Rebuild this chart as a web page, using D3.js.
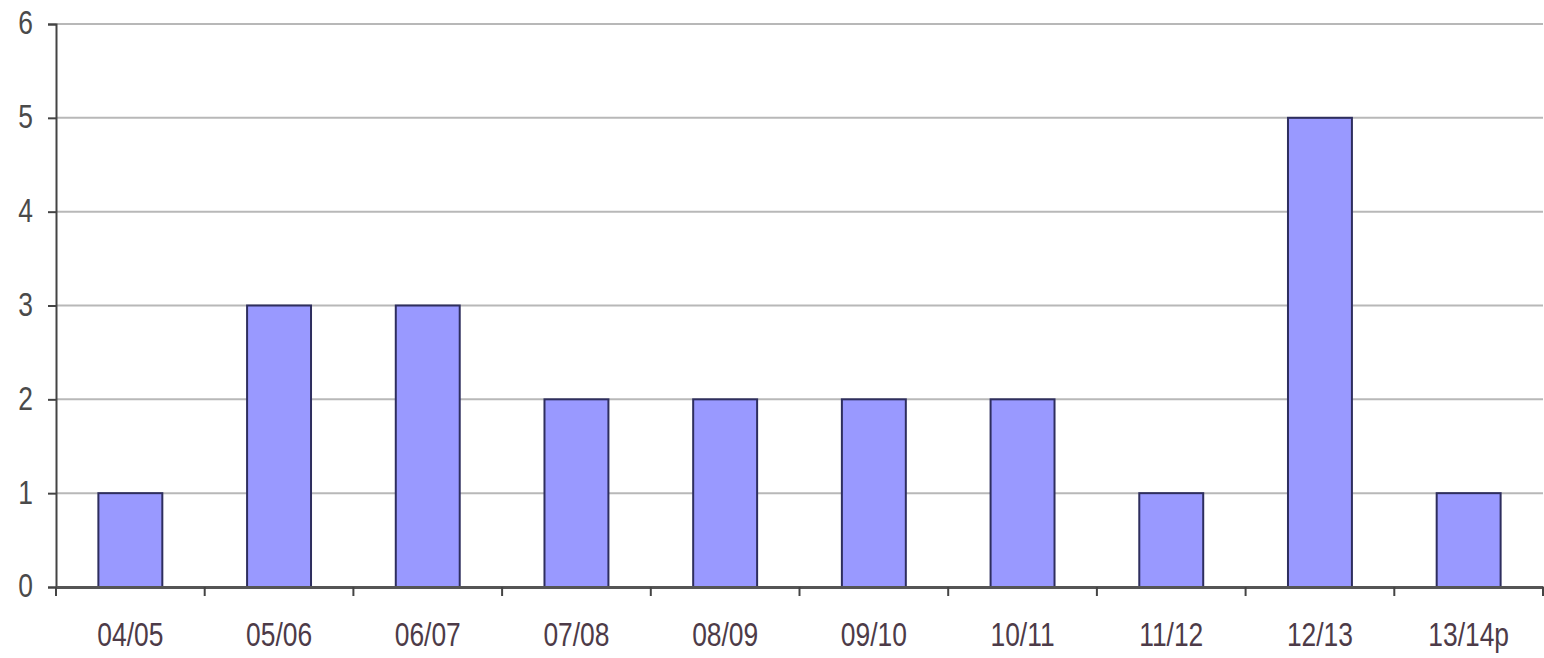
<!DOCTYPE html>
<html><head><meta charset="utf-8">
<script src="https://cdn.jsdelivr.net/npm/d3@7"></script>
<style>body{margin:0;background:#fff;} svg{display:block;}</style>
</head><body>
<script>
const categories = ["04/05","05/06","06/07","07/08","08/09","09/10","10/11","11/12","12/13","13/14p"];
const values = [1,3,3,2,2,2,2,1,5,1];
const yTicks = [0,1,2,3,4,5,6];

const W = 1544, H = 658;
const m = {left:56, right:1, top:24, bottom:71};
const svg = d3.select("body").append("svg").attr("width",W).attr("height",H);
const x = d3.scaleBand().domain(categories).range([m.left, W-m.right]).paddingInner(0.57).paddingOuter(0.285);
const xb = d3.scaleBand().domain(categories).range([m.left, W-m.right]);
const y = d3.scaleLinear().domain([0,6]).range([H-m.bottom, m.top]);

const font = "'Liberation Sans',Arial,sans-serif";
const sx = 0.8;

// gridlines
svg.append("g").selectAll("line").data(yTicks.filter(d=>d>0)).join("line")
  .attr("x1",m.left).attr("x2",W-m.right)
  .attr("y1",d=>y(d)).attr("y2",d=>y(d))
  .attr("stroke","#b8b8b8").attr("stroke-width",2);

// bars
svg.append("g").selectAll("rect").data(values).join("rect")
  .attr("x",(d,i)=>x(categories[i])).attr("width",x.bandwidth())
  .attr("y",d=>y(d)).attr("height",d=>y(0)-y(d))
  .attr("fill","#9999ff").attr("stroke","#2e2e5e").attr("stroke-width",2);

// y axis
const ya = svg.append("g").attr("transform",`translate(${m.left},0)`)
  .call(d3.axisLeft(y).tickValues(yTicks).tickSize(8).tickPadding(15).tickFormat(d3.format("d")));
ya.select(".domain").attr("stroke","#444").attr("stroke-width",2);
ya.selectAll(".tick line").attr("stroke","#444").attr("stroke-width",2);
ya.selectAll("text").attr("font-family",font).attr("font-size",33).attr("fill","#4a4a4a")
  .attr("x",-23/sx).attr("transform",`scale(${sx},1)`).attr("dy","0.3em");

// x axis
const xa = svg.append("g").attr("transform",`translate(0,${y(0)})`)
  .call(d3.axisBottom(xb).tickSize(0).tickPadding(36));
xa.select(".domain").attr("stroke","#555").attr("stroke-width",3);
xa.selectAll("text").attr("font-family",font).attr("font-size",33).attr("fill","#4d3b48")
  .attr("transform",`scale(${sx},1)`);
const bounds = categories.map(c=>xb(c)).concat([W-m.right]);
svg.append("g").selectAll("line").data(bounds).join("line")
  .attr("x1",d=>d).attr("x2",d=>d).attr("y1",y(0)).attr("y2",y(0)+9)
  .attr("stroke","#444").attr("stroke-width",2);
</script>
</body></html>
